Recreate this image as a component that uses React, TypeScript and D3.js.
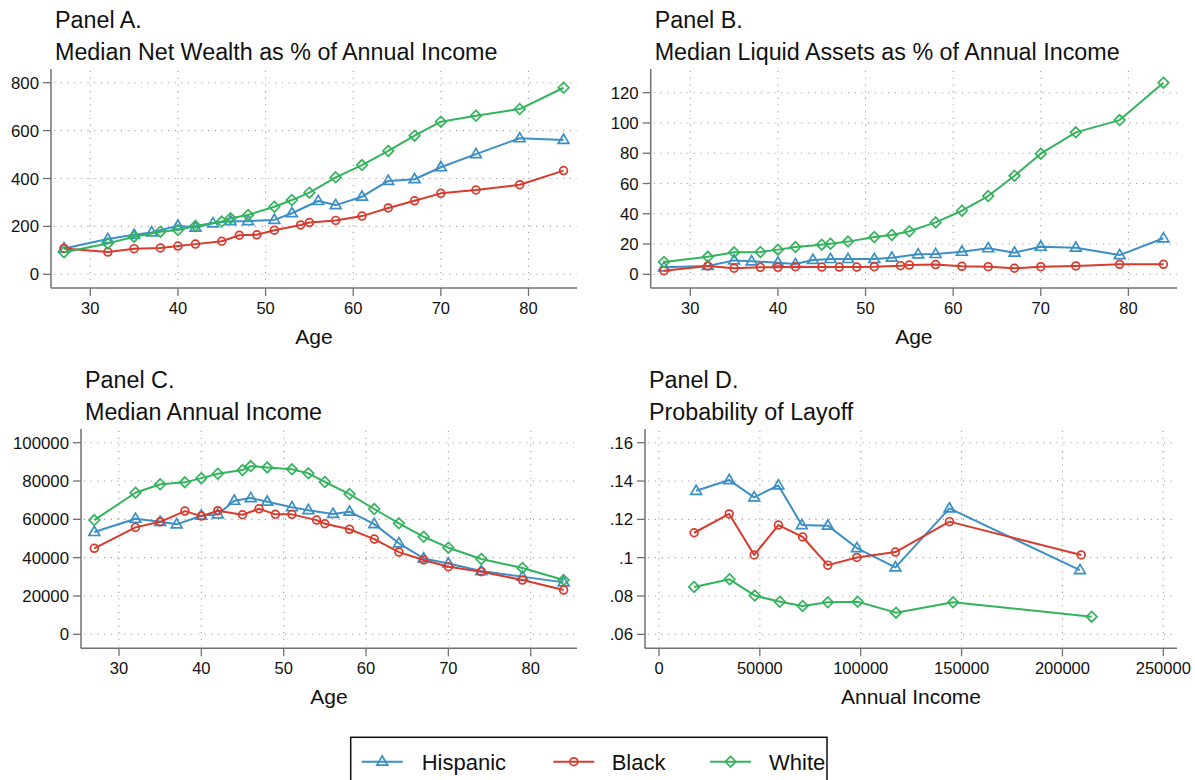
import React from "react";
import * as d3 from "d3";

// ---------- Data ----------
const hispanicAge = [27, 32, 35, 37, 40, 42, 44, 46, 48, 51, 53, 56, 58, 61, 64, 67, 70, 74, 79, 84];
const blackAge = [27, 32, 35, 38, 40, 42, 45, 47, 49, 51, 54, 55, 58, 61, 64, 67, 70, 74, 79, 84];
const whiteAge = [27, 32, 35, 38, 40, 42, 45, 46, 48, 51, 53, 55, 58, 61, 64, 67, 70, 74, 79, 84];

// Panel A: median net wealth as % of annual income
const hispanicWealth = [108, 147, 165, 175, 203, 195, 213, 222, 222, 227, 255, 306, 289, 324, 390, 397, 447, 502, 568, 561];
const blackWealth = [108, 93, 107, 110, 118, 126, 138, 163, 165, 184, 206, 216, 225, 243, 277, 307, 338, 352, 374, 433];
const whiteWealth = [92, 129, 157, 178, 185, 202, 220, 234, 248, 282, 310, 341, 405, 456, 515, 579, 637, 662, 690, 779];

// Panel B: median liquid assets as % of annual income
const hispanicLiquid = [4.6, 5.5, 9.2, 8.6, 7.7, 6.8, 9.5, 10.1, 10.1, 10.1, 11.0, 13.2, 13.4, 14.9, 17.2, 14.3, 18.2, 17.6, 12.7, 23.8];
const blackLiquid = [2.4, 5.5, 4.0, 4.6, 4.6, 5.0, 4.8, 4.8, 4.8, 5.0, 5.7, 6.1, 6.4, 5.3, 5.0, 4.0, 5.0, 5.5, 6.6, 6.6];
const whiteLiquid = [8.1, 11.6, 14.5, 14.7, 16.3, 18.0, 19.6, 20.2, 21.6, 24.6, 26.0, 28.4, 34.3, 42.0, 51.7, 65.1, 79.7, 93.8, 101.9, 126.6];

// Panel C: median annual income
const hispanicIncome = [53400, 60300, 58700, 57400, 61900, 62600, 69700, 71100, 69200, 66300, 64800, 62800, 64000, 57500, 47500, 39600, 37000, 33000, 30100, 27100];
const blackIncome = [44900, 55800, 58700, 64300, 61700, 64500, 62400, 65500, 62600, 62600, 59600, 57700, 54800, 49700, 42900, 38800, 35300, 32700, 28300, 23100];
const whiteIncome = [59600, 73900, 78300, 79300, 81500, 83800, 85700, 87800, 87100, 86100, 84000, 79500, 73200, 65400, 57900, 50900, 45200, 39300, 34600, 28300];

// Panel D: probability of layoff by annual income
const hispanicLayoffIncome = [18400, 34800, 47200, 59200, 70800, 83700, 98100, 117200, 144000, 208700];
const hispanicLayoff = [0.1349, 0.1405, 0.1315, 0.1377, 0.1170, 0.1167, 0.1050, 0.0949, 0.1257, 0.0935];
const blackLayoffIncome = [17400, 34800, 47200, 59200, 71200, 83700, 98100, 117200, 144000, 209300];
const blackLayoff = [0.1130, 0.1228, 0.1014, 0.1170, 0.1108, 0.0961, 0.1001, 0.1029, 0.1188, 0.1014];
const whiteLayoffIncome = [17400, 35000, 47500, 59900, 71200, 83700, 98500, 117500, 145800, 214500];
const whiteLayoff = [0.0847, 0.0887, 0.0802, 0.0770, 0.0748, 0.0767, 0.0770, 0.0713, 0.0767, 0.0692];

const ageTicks = [30, 40, 50, 60, 70, 80];
const wealthTicks = [0, 200, 400, 600, 800];
const liquidTicks = [0, 20, 40, 60, 80, 100, 120];
const incomeTicks = [0, 20000, 40000, 60000, 80000, 100000];
const layoffTicks = [0.06, 0.08, 0.1, 0.12, 0.14, 0.16];
const layoffTickLabels = [".06", ".08", ".1", ".12", ".14", ".16"];
const annualIncomeTicks = [0, 50000, 100000, 150000, 200000, 250000];

const groups = ["Hispanic", "Black", "White"];
const colors = ["#3b8fc6", "#d93a2e", "#33b35c"];
const markers = ["triangle", "circle", "diamond"];

// ---------- Rendering ----------
const FONT = "'Liberation Sans', Arial, Helvetica, sans-serif";

type Series = { xs: number[]; ys: number[] };

type PanelProps = {
  left: number; right: number; top: number; bottom: number;
  xDomain: [number, number]; xRange: [number, number];
  yDomain: [number, number]; yRange: [number, number];
  xTicks: number[]; yTicks: number[]; yLabels?: string[];
  title1: string; title2: string; xTitle: string;
  series: Series[];
};

function Marker({ kind, x, y, color }: { kind: string; x: number; y: number; color: string }) {
  const sw = 1.7;
  if (kind === "circle") {
    return <circle cx={x} cy={y} r={3.9} fill="none" stroke={color} strokeWidth={sw} />;
  }
  if (kind === "diamond") {
    const s = 5.3;
    return (
      <path d={`M${x},${y - s}L${x + s},${y}L${x},${y + s}L${x - s},${y}Z`} fill="none" stroke={color} strokeWidth={sw} />
    );
  }
  const h = 9.2, w = 10.8;
  return (
    <path d={`M${x},${y - h * 0.62}L${x + w / 2},${y + h * 0.38}L${x - w / 2},${y + h * 0.38}Z`} fill="none" stroke={color} strokeWidth={sw} strokeLinejoin="miter" />
  );
}

function Panel(p: PanelProps) {
  const x = d3.scaleLinear().domain(p.xDomain).range(p.xRange);
  const y = d3.scaleLinear().domain(p.yDomain).range(p.yRange);
  const line = d3.line<[number, number]>().x((d) => x(d[0])).y((d) => y(d[1]));
  const gridStyle = { stroke: "#9a9a9a", strokeWidth: 1.1, strokeDasharray: "1.1 5.6" };
  return (
    <g>
      <text x={p.left + 4} y={p.top - 41} fontSize={23.3} fontFamily={FONT} fill="#111">{p.title1}</text>
      <text x={p.left + 4} y={p.top - 9} fontSize={23.3} fontFamily={FONT} fill="#111">{p.title2}</text>
      {p.yTicks.map((t) => (
        <line key={"hy" + t} x1={p.left + 3} x2={p.right} y1={y(t)} y2={y(t)} {...gridStyle} />
      ))}
      {p.xTicks.map((t) => (
        <line key={"vx" + t} x1={x(t)} x2={x(t)} y1={p.top + 2} y2={p.bottom - 2} {...gridStyle} />
      ))}
      <line x1={p.left} x2={p.left} y1={p.top} y2={p.bottom} stroke="#707070" strokeWidth={1.5} />
      <line x1={p.left} x2={p.right} y1={p.bottom} y2={p.bottom} stroke="#707070" strokeWidth={1.5} />
      {p.yTicks.map((t, i) => (
        <g key={"yt" + t}>
          <line x1={p.left - 8} x2={p.left} y1={y(t)} y2={y(t)} stroke="#707070" strokeWidth={1.3} />
          <text x={p.left - 12} y={y(t)} dy="0.36em" textAnchor="end" fontSize={16.8} fontFamily={FONT} fill="#111">
            {p.yLabels ? p.yLabels[i] : String(t)}
          </text>
        </g>
      ))}
      {p.xTicks.map((t) => (
        <g key={"xt" + t}>
          <line x1={x(t)} x2={x(t)} y1={p.bottom} y2={p.bottom + 8} stroke="#707070" strokeWidth={1.3} />
          <text x={x(t)} y={p.bottom + 26} textAnchor="middle" fontSize={16.5} fontFamily={FONT} fill="#111">{String(t)}</text>
        </g>
      ))}
      <text x={(p.left + p.right) / 2} y={p.bottom + 56} textAnchor="middle" fontSize={21} fontFamily={FONT} fill="#111">{p.xTitle}</text>
      {p.series.map((s, gi) => {
        const pts = s.xs.map((v, i) => [v, s.ys[i]] as [number, number]);
        return (
          <g key={"s" + gi}>
            <path d={line(pts) || ""} fill="none" stroke={colors[gi]} strokeWidth={2} strokeLinejoin="round" />
            {pts.map((d, i) => (
              <Marker key={i} kind={markers[gi]} x={x(d[0])} y={y(d[1])} color={colors[gi]} />
            ))}
          </g>
        );
      })}
    </g>
  );
}

export default function App() {
  const legendItems = [
    { lx: 361.7, tx: 421.7 },
    { lx: 553.3, tx: 611.7 },
    { lx: 710, tx: 769 },
  ];
  return (
    <svg width={1195} height={780} style={{ position: "absolute", left: 0, top: 0, background: "#fff" }}>
      <rect x={0} y={0} width={1195} height={780} fill="#fff" />
      <Panel
        left={51} right={577} top={69} bottom={288}
        xDomain={[30, 80]} xRange={[90.3, 528.5]}
        yDomain={[0, 800]} yRange={[274.3, 82.7]}
        xTicks={ageTicks} yTicks={wealthTicks}
        title1="Panel A." title2="Median Net Wealth as % of Annual Income" xTitle="Age"
        series={[
          { xs: hispanicAge, ys: hispanicWealth },
          { xs: blackAge, ys: blackWealth },
          { xs: whiteAge, ys: whiteWealth },
        ]}
      />
      <Panel
        left={650.7} right={1177} top={69} bottom={288}
        xDomain={[30, 80]} xRange={[690.3, 1128.4]}
        yDomain={[0, 120]} yRange={[274.3, 92.7]}
        xTicks={ageTicks} yTicks={liquidTicks}
        title1="Panel B." title2="Median Liquid Assets as % of Annual Income" xTitle="Age"
        series={[
          { xs: hispanicAge, ys: hispanicLiquid },
          { xs: blackAge, ys: blackLiquid },
          { xs: whiteAge, ys: whiteLiquid },
        ]}
      />
      <Panel
        left={81} right={577} top={429} bottom={648.3}
        xDomain={[30, 80]} xRange={[119, 530.7]}
        yDomain={[0, 100000]} yRange={[634.3, 442.7]}
        xTicks={ageTicks} yTicks={incomeTicks}
        title1="Panel C." title2="Median Annual Income" xTitle="Age"
        series={[
          { xs: hispanicAge, ys: hispanicIncome },
          { xs: blackAge, ys: blackIncome },
          { xs: whiteAge, ys: whiteIncome },
        ]}
      />
      <Panel
        left={645} right={1177} top={429} bottom={648.3}
        xDomain={[0, 250000]} xRange={[659, 1163.3]}
        yDomain={[0.06, 0.16]} yRange={[634.3, 442.7]}
        xTicks={annualIncomeTicks} yTicks={layoffTicks} yLabels={layoffTickLabels}
        title1="Panel D." title2="Probability of Layoff" xTitle="Annual Income"
        series={[
          { xs: hispanicLayoffIncome, ys: hispanicLayoff },
          { xs: blackLayoffIncome, ys: blackLayoff },
          { xs: whiteLayoffIncome, ys: whiteLayoff },
        ]}
      />
      <rect x={350.7} y={737.3} width={476.3} height={70} fill="#fff" stroke="#111" strokeWidth={1.5} />
      {groups.map((g, i) => (
        <g key={g}>
          <line x1={legendItems[i].lx} x2={legendItems[i].lx + 41} y1={761.7} y2={761.7} stroke={colors[i]} strokeWidth={2} />
          <Marker kind={markers[i]} x={legendItems[i].lx + 20.5} y={761.7} color={colors[i]} />
          <text x={legendItems[i].tx} y={770} fontSize={22} fontFamily={FONT} fill="#111">{g}</text>
        </g>
      ))}
    </svg>
  );
}
